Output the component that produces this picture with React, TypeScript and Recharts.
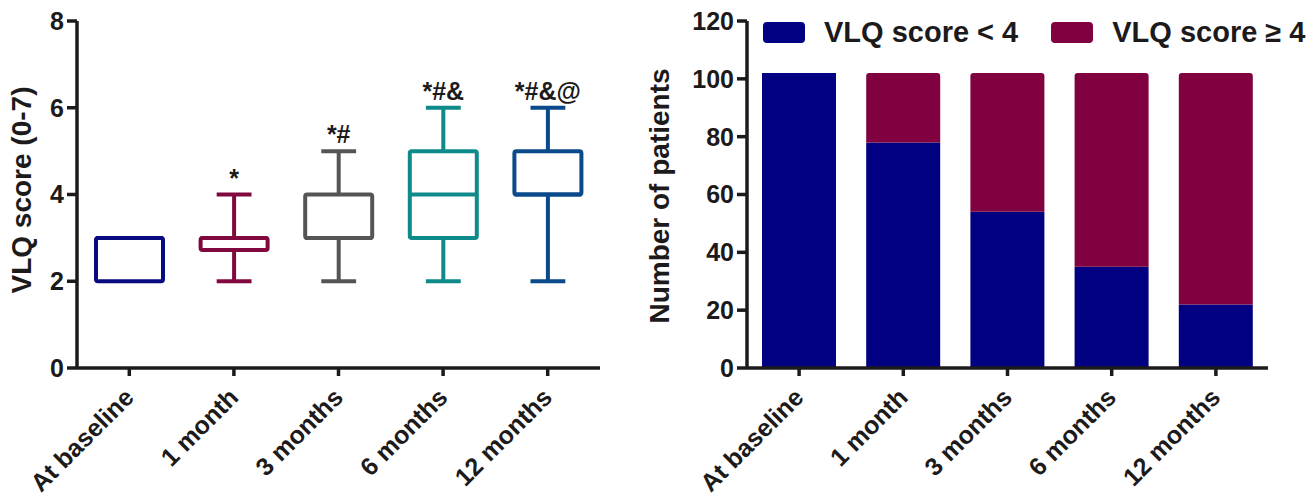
import {
    ComposedChart,
    BarChart,
    Bar,
    XAxis,
    YAxis,
    Legend,
    LabelList
} from "recharts"

// categories shared by both panels
const timepoints = ["At baseline", "1 month", "3 months", "6 months", "12 months"]

// box plot values (VLQ score)
const scoreMin = [2, 2, 2, 2, 2]
const scoreQ1 = [2, 2.72, 3, 3, 4]
const scoreMedian = [3, 3, 3, 4, 4]
const scoreQ3 = [3, 3, 4, 5, 5]
const scoreMax = [3, 4, 5, 6, 6]
const significance = ["", "*", "*#", "*#&", "*#&@"]
const scoreTicks = [0, 2, 4, 6, 8]

// stacked bar values (patients)
const belowFour = [102, 78, 54, 35, 22]
const atLeastFour = [0, 24, 48, 67, 80]
const patientTicks = [0, 20, 40, 60, 80, 100, 120]

const BOX_COLORS = ["#0a0a80", "#80083f", "#555555", "#0e8a8a", "#0b4a8a"]
const BLUE = "#000080"
const WINE = "#800040"
const INK = "#1c1a1a"
const FONT = "'Liberation Sans', Arial, sans-serif"

const boxData = timepoints.map((name, i) => ({
    name,
    min: scoreMin[i],
    q1: scoreQ1[i],
    median: scoreMedian[i],
    q3: scoreQ3[i],
    max: scoreMax[i],
    range: [scoreMin[i], scoreMax[i]],
    note: significance[i]
}))

const barData = timepoints.map((name, i) => ({
    name,
    below: belowFour[i],
    above: atLeastFour[i]
}))

function BoxShape(props: any) {
    const { x, y, width, height, payload, index } = props
    const lo = payload.min
    const hi = payload.max
    // map a value to pixels using the bar's own scaled extent
    const py = (v: number) => (hi === lo ? y : y + (height * (hi - v)) / (hi - lo))
    const color = BOX_COLORS[index % BOX_COLORS.length]
    const cx = x + width / 2
    const cap = width * 0.26
    const sw = 4
    return (
        <g stroke={color} strokeWidth={sw} fill="none">
            {payload.max > payload.q3 && (
                <>
                    <line x1={cx} x2={cx} y1={py(payload.max)} y2={py(payload.q3)} />
                    <line x1={cx - cap} x2={cx + cap} y1={py(payload.max)} y2={py(payload.max)} />
                </>
            )}
            {payload.min < payload.q1 && (
                <>
                    <line x1={cx} x2={cx} y1={py(payload.q1)} y2={py(payload.min)} />
                    <line x1={cx - cap} x2={cx + cap} y1={py(payload.min)} y2={py(payload.min)} />
                </>
            )}
            <rect
                x={x}
                y={py(payload.q3)}
                width={width}
                height={py(payload.q1) - py(payload.q3)}
                fill="#fff"
                rx={2}
                strokeLinejoin="round"
            />
            <line x1={x} x2={x + width} y1={py(payload.median)} y2={py(payload.median)} />
        </g>
    )
}

function SlantTick(props: any) {
    const { x, y, payload } = props
    const ax = x + 6
    const ay = y + 21
    return (
        <text
            x={ax}
            y={ay}
            transform={`rotate(-45 ${ax} ${ay})`}
            textAnchor="end"
            fontSize={25}
            fontWeight="bold"
            fontFamily={FONT}
            fill={INK}
        >
            {payload.value}
        </text>
    )
}

function LegendContent(props: any) {
    const items = props.payload || []
    return (
        <div style={{ display: "flex", alignItems: "center", fontFamily: FONT }}>
            {items.map((it: any, i: number) => (
                <div key={i} style={{ display: "flex", alignItems: "center", marginRight: i === 0 ? 33 : 0 }}>
                    <div style={{ width: 42, height: 21, background: it.color, borderRadius: 4, marginRight: 19 }} />
                    <span style={{ fontSize: 29, fontWeight: "bold", color: INK, lineHeight: "29px" }}>{it.value}</span>
                </div>
            ))}
        </div>
    )
}

const axisLine = { stroke: INK, strokeWidth: 3.5 }
const tickStyle = { fontSize: 25, fontWeight: "bold", fontFamily: FONT, fill: INK }

export default function App() {
    return (
        <div style={{ position: "absolute", left: 0, top: 0, width: 1309, height: 497, background: "#fff" }}>
            <div style={{ position: "absolute", left: 0, top: 0 }}>
                <ComposedChart width={620} height={497} data={boxData} margin={{ top: 21, right: 20, bottom: 19, left: 30 }}>
                    <XAxis
                        dataKey="name"
                        interval={0}
                        height={110}
                        axisLine={axisLine}
                        tickLine={axisLine}
                        tickSize={8}
                        tickMargin={2}
                        tick={<SlantTick />}
                    />
                    <YAxis
                        domain={[0, 8]}
                        ticks={scoreTicks}
                        width={47}
                        axisLine={axisLine}
                        tickLine={axisLine}
                        tickSize={10}
                        tickMargin={3}
                        tick={tickStyle}
                    />
                    <Bar dataKey="range" barSize={67} shape={<BoxShape />} isAnimationActive={false}>
                        <LabelList
                            dataKey="note"
                            position="top"
                            offset={8}
                            style={{ fontSize: 25, fontWeight: "bold", fontFamily: FONT, fill: INK }}
                        />
                    </Bar>
                </ComposedChart>
            </div>
            <div style={{ position: "absolute", left: 640, top: 0 }}>
                <BarChart width={669} height={497} data={barData} margin={{ top: 21, right: 41, bottom: 19, left: 50 }}>
                    <XAxis
                        dataKey="name"
                        interval={0}
                        height={110}
                        axisLine={axisLine}
                        tickLine={axisLine}
                        tickSize={8}
                        tickMargin={2}
                        tick={<SlantTick />}
                    />
                    <YAxis
                        domain={[0, 120]}
                        ticks={patientTicks}
                        width={57}
                        axisLine={axisLine}
                        tickLine={axisLine}
                        tickSize={10}
                        tickMargin={3}
                        tick={tickStyle}
                    />
                    <Legend
                        layout="horizontal"
                        verticalAlign="middle"
                        align="center"
                        content={<LegendContent />}
                        wrapperStyle={{ position: "absolute", left: 123, top: 18, width: "auto" }}
                    />
                    <Bar dataKey="below" name="VLQ score < 4" stackId="a" fill={BLUE} barSize={74} isAnimationActive={false} />
                    <Bar dataKey="above" name="VLQ score ≥ 4" stackId="a" fill={WINE} barSize={74} radius={[3, 3, 0, 0]} isAnimationActive={false} />
                </BarChart>
            </div>
            <svg width={1309} height={497} style={{ position: "absolute", left: 0, top: 0, pointerEvents: "none" }}>
                <text
                    x={31}
                    y={190}
                    transform="rotate(-90 31 190)"
                    textAnchor="middle"
                    fontSize={28}
                    fontWeight="bold"
                    fontFamily={FONT}
                    fill={INK}
                >
                    VLQ score (0-7)
                </text>
                <text
                    x={669}
                    y={196}
                    transform="rotate(-90 669 196)"
                    textAnchor="middle"
                    fontSize={28}
                    fontWeight="bold"
                    fontFamily={FONT}
                    fill={INK}
                >
                    Number of patients
                </text>
            </svg>
        </div>
    )
}
